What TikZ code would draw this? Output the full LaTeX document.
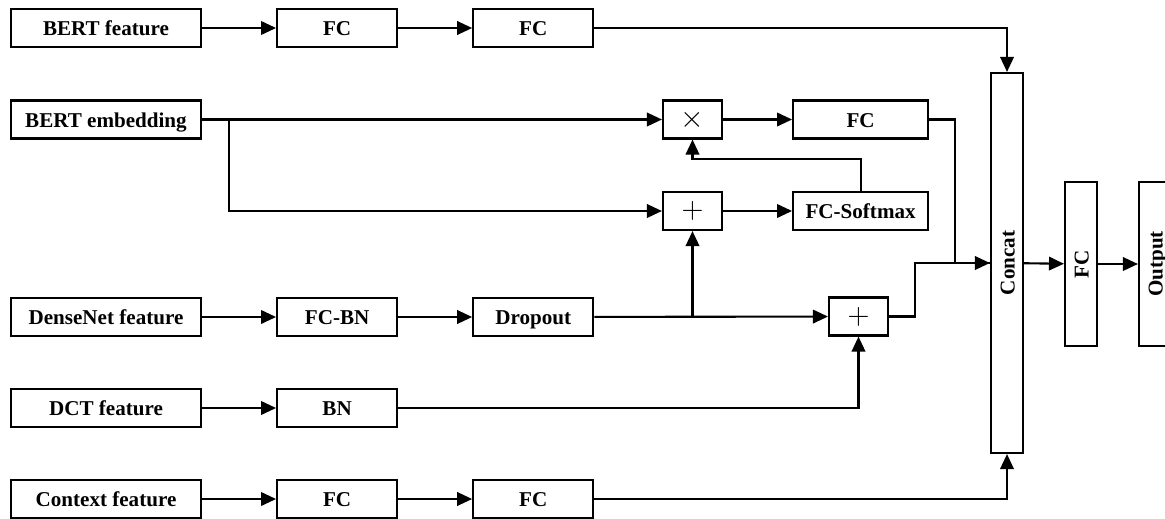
\documentclass[tikz,border=0pt]{standalone}
\usepackage{fontspec}
\setmainfont{Liberation Serif}
\usetikzlibrary{arrows.meta,positioning}

\begin{document}
\begin{tikzpicture}[node distance=1.48cm,>={Triangle[length=0.3cm,width=0.27cm]},line width=1.2pt,
  box/.style={draw,minimum width=2.4cm,minimum height=0.76cm,inner sep=0pt,text height=2ex,text depth=0.1ex,font=\fontsize{12}{13}\selectfont\bfseries},
  inbox/.style={box,minimum width=3.8cm},
  opbox/.style={draw,minimum width=1.18cm,minimum height=0.76cm,inner sep=0pt,font=\fontsize{17}{18}\selectfont},
  tallbox/.style={box,minimum height=0.64cm,rotate=90}]
  \useasboundingbox (0,0) rectangle (23.3,-10.36);
  % inputs
  \node[inbox] (bfeat) at (2.12,-0.56) {BERT feature};
  \node[inbox] (bemb) at (2.12,-2.39) {BERT embedding};
  \node[inbox] (dense) at (2.12,-6.34) {DenseNet feature};
  \node[inbox] (dct) at (2.12,-8.16) {DCT feature};
  \node[inbox] (ctx) at (2.12,-9.98) {Context feature};
  % feature branches
  \node[box,right=of bfeat] (fc1) {FC};
  \node[box,right=of fc1] (fc2) {FC};
  \node[box,right=of dense] (fcbn) {FC-BN};
  \node[box,right=of fcbn] (drop) {Dropout};
  \node[box,right=of dct] (bn) {BN};
  \node[box,right=of ctx] (fc4) {FC};
  \node[box,right=of fc4] (fc5) {FC};
  % attention part
  \node[opbox] (mul) at (13.85,-2.39) {$\times$};
  \node[opbox] (add1) at (13.85,-4.22) {$+$};
  \node[box,minimum width=2.7cm,right=1.38cm of mul] (fc3) {FC};
  \node[box,minimum width=2.7cm,right=1.38cm of add1] (soft) {FC-Softmax};
  \node[opbox] (add2) at (17.17,-6.33) {$+$};
  % output part
  \node[tallbox,minimum width=7.6cm] (concat) at (20.14,-5.26) {Concat};
  \node[tallbox,minimum width=3.28cm] (fcout) at (21.62,-5.28) {FC};
  \node[tallbox,minimum width=3.28cm] (out) at (23.1,-5.28) {Output};
  \coordinate[right=0.54cm of bemb.east] (split);

  \draw[->] (bfeat) -- (fc1);
  \draw[->] (fc1) -- (fc2);
  \draw[->] (fc2) -| (concat);
  \draw[->] (bemb) -- (mul);
  \draw[->] (split) |- (add1);
  \draw[->] (mul) -- (fc3);
  \draw[->] (add1) -- (soft);
  \draw[->] (soft.north) -- ++(0,0.64) -| (mul);
  \draw[->] (dense) -- (fcbn);
  \draw[->] (fcbn) -- (drop);
  \draw[->] (drop) -- (add2);
  \draw[->] (add1 |- drop) -- (add1);
  \draw[->] (dct) -- (bn);
  \draw[->] (bn) -| (add2);
  \draw (fc3.east) -- ++(0.52,0) |- (concat);
  \draw[->] (add2.east) -- ++(0.52,0) |- (concat);
  \draw[->] (ctx) -- (fc4);
  \draw[->] (fc4) -- (fc5);
  \draw[->] (fc5) -| (concat);
  \draw[->] (concat) -- (fcout);
  \draw[->] (fcout) -- (out);
\end{tikzpicture}
\end{document}
